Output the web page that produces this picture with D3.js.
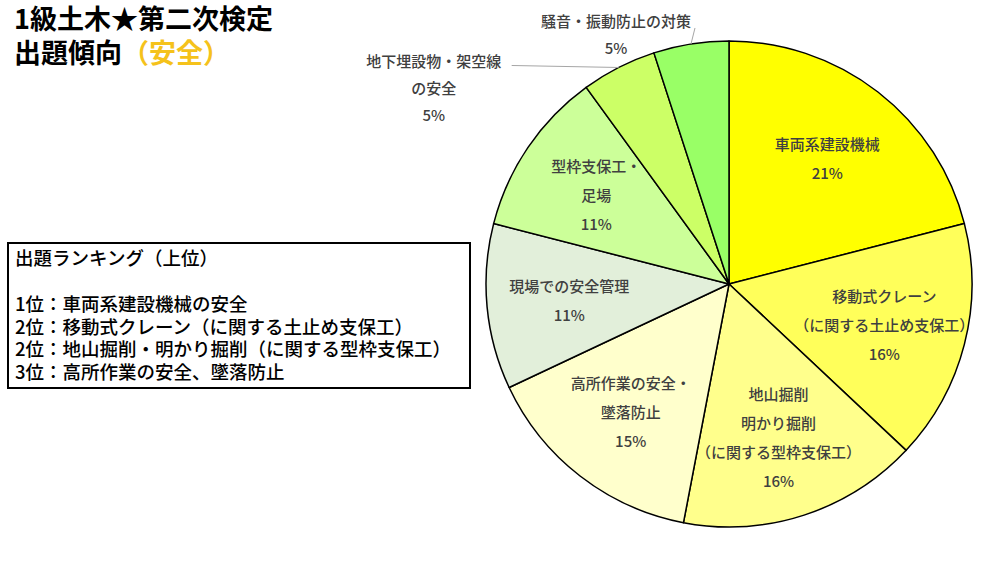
<!DOCTYPE html>
<html>
<head>
<meta charset="utf-8">
<script src="https://cdn.jsdelivr.net/npm/d3@7"></script>
<style>
  body { margin: 0; background: #fff; }
  svg { font-family: "Noto Sans CJK JP", "Noto Sans", sans-serif; }
</style>
</head>
<body>
<div class="pie-chart"></div>
<script>
// data
const categories = [
  ['車両系建設機械'],
  ['移動式クレーン', '（に関する土止め支保工）'],
  ['地山掘削', '明かり掘削', '（に関する型枠支保工）'],
  ['高所作業の安全・', '墜落防止'],
  ['現場での安全管理'],
  ['型枠支保工・', '足場'],
  ['地下埋設物・架空線', 'の安全'],
  ['騒音・振動防止の対策']
];
const values = [21, 16, 16, 15, 11, 11, 5, 5];
const colors = ['#FFFF00', '#FFFF5A', '#FFFF8C', '#FFFFCC', '#E2EFDA', '#CCFF99', '#CCFF66', '#99FF66'];
const outside = [false, false, false, false, false, false, true, true];

const titleLines = ['1級土木★第二次検定', '出題傾向'];
const titleAccent = '（安全）';
const rankTitle = '出題ランキング（上位）';
const rankLines = [
  '1位：車両系建設機械の安全',
  '2位：移動式クレーン（に関する土止め支保工）',
  '2位：地山掘削・明かり掘削（に関する型枠支保工）',
  '3位：高所作業の安全、墜落防止'
];

const W = 1000, H = 563;
const svg = d3.select('.pie-chart')
  .append('svg')
  .attr('width', W)
  .attr('height', H)
  .attr('viewBox', `0 0 ${W} ${H}`);

// title
const title = svg.append('g');
title.append('text')
  .attr('x', 14).attr('y', 29)
  .attr('font-size', 27).attr('font-weight', 'bold').attr('fill', '#000')
  .text(titleLines[0]);
const t2 = title.append('text')
  .attr('x', 14).attr('y', 63)
  .attr('font-size', 27).attr('font-weight', 'bold').attr('fill', '#000');
t2.append('tspan').text(titleLines[1]);
t2.append('tspan').attr('fill', '#F5C21B').text(titleAccent);

// ranking box
const box = svg.append('g');
box.append('rect')
  .attr('x', 8).attr('y', 243)
  .attr('width', 462).attr('height', 145)
  .attr('fill', '#fff').attr('stroke', '#000').attr('stroke-width', 2);
box.append('text')
  .attr('x', 15).attr('y', 265)
  .attr('font-size', 18.5).attr('font-weight', 500).attr('fill', '#000')
  .text(rankTitle);
box.selectAll('.rank')
  .data(rankLines)
  .enter()
  .append('text')
  .attr('class', 'rank')
  .attr('x', 15)
  .attr('y', (_, i) => 311 + i * 22.5)
  .attr('font-size', 18.5).attr('font-weight', 500).attr('fill', '#000')
  .text(d => d);

// pie
const cx = 729, cy = 284, R = 243;
const g = svg.append('g').attr('transform', `translate(${cx},${cy})`);

const pie = d3.pie().sort(null).value(d => d);
const arcs = pie(values);
const arc = d3.arc().innerRadius(0).outerRadius(R);
const labelArc = d3.arc().innerRadius(R * 0.66).outerRadius(R * 0.66);

g.selectAll('.slice')
  .data(arcs)
  .enter()
  .append('path')
  .attr('class', 'slice')
  .attr('d', arc)
  .attr('fill', (_, i) => colors[i])
  .attr('stroke', '#000')
  .attr('stroke-width', 1.5)
  .attr('stroke-linejoin', 'round');

const lineH = 29;

// inside labels
arcs.forEach((a, i) => {
  if (outside[i]) return;
  const [x, y] = labelArc.centroid(a);
  const lines = categories[i].concat([values[i] + '%']);
  const y0 = y - (lines.length - 1) * lineH / 2;
  const t = g.append('text')
    .attr('text-anchor', 'middle')
    .attr('dominant-baseline', 'central')
    .attr('font-size', 15)
    .attr('font-weight', 500)
    .attr('fill', '#404040');
  lines.forEach((l, k) => {
    t.append('tspan').attr('x', x).attr('y', y0 + k * lineH).text(l);
  });
});

// outside labels with leader lines
const edgeArc = d3.arc().innerRadius(R).outerRadius(R);
const outsideOffsets = { 6: [-185, 19, -107, -2], 7: [-75, -11, 4, -16] };
arcs.forEach((a, i) => {
  if (!outside[i]) return;
  const [ex, ey] = edgeArc.centroid(a);
  const [lx, ly, kx, ky] = outsideOffsets[i];
  const lines = categories[i].concat([values[i] + '%']);
  g.append('line')
    .attr('x1', ex).attr('y1', ey)
    .attr('x2', ex + kx).attr('y2', ey + ky)
    .attr('stroke', '#A6A6A6')
    .attr('stroke-width', 1);
  const y0 = ey + ly - (lines.length - 1) * 27 / 2;
  const t = g.append('text')
    .attr('text-anchor', 'middle')
    .attr('dominant-baseline', 'central')
    .attr('font-size', 15)
    .attr('font-weight', 500)
    .attr('fill', '#404040');
  lines.forEach((l, k) => {
    t.append('tspan').attr('x', ex + lx).attr('y', y0 + k * 27).text(l);
  });
});
</script>
</body>
</html>
